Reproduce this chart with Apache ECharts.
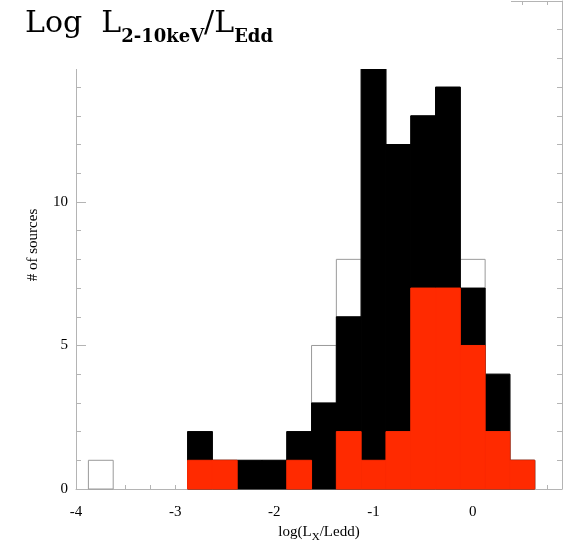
<!DOCTYPE html>
<html>
<head>
<meta charset="utf-8">
<title>Log L2-10keV/LEdd</title>
<script src="https://cdn.jsdelivr.net/npm/echarts@6/dist/echarts.min.js"></script>
<style>
  html, body { margin: 0; padding: 0; background: #fff; }
  #chart { width: 565px; height: 549px; }
</style>
</head>
<body>
<div id="chart"></div>
<script>
// histogram bins (centre of each 0.25 dex bin)
const binCenters = [-3.75, -3.5, -3.25, -3.0, -2.75, -2.5, -2.25, -2.0, -1.75, -1.5, -1.25, -1.0, -0.75, -0.5, -0.25, 0.0, 0.25, 0.5]
const binWidth = 0.25
// outline: every source
const totalCounts = [1, 0, 0, 0, 2, 1, 1, 1, 2, 5, 8, 15, 12, 13, 14, 8, 4, 1]
// black: sub-sample
const blackCounts = [0, 0, 0, 0, 2, 1, 1, 1, 2, 3, 6, 15, 12, 13, 14, 7, 4, 1]
// red: sub-sample
const redCounts = [0, 0, 0, 0, 1, 1, 0, 0, 1, 0, 2, 1, 2, 7, 7, 5, 2, 1]
const xTickLabels = ['-4', '-3', '-2', '-1', '0']
const yTickLabels = ['0', '5', '10']

const axisGrey = '#b4b4b4'
const serif = 'Liberation Serif'

function pairs(counts) {
  return binCenters.map(function(c, i) { return [c, counts[i]] })
}

function histItem(fill, stroke) {
  return function(params, api) {
    const x = api.value(0)
    const v = api.value(1)
    if (!v) return null
    const p0 = api.coord([x - binWidth / 2, v])
    const p1 = api.coord([x + binWidth / 2, 0])
    return {
      type: 'rect',
      shape: { x: p0[0], y: p0[1], width: p1[0] - p0[0], height: p1[1] - p0[1] },
      style: { fill: fill, stroke: stroke, lineWidth: 1 }
    }
  }
}

const chart = echarts.init(document.getElementById('chart'))

const xCommon = {
  type: 'value',
  min: -4,
  max: 0.9,
  interval: 0.25,
  splitLine: { show: false },
  axisLine: { show: true, onZero: false, lineStyle: { color: axisGrey, width: 1 } },
  axisTick: { show: true, inside: true, length: 4, lineStyle: { color: axisGrey } }
}

const option = {
  animation: false,
  backgroundColor: '#fff',
  title: {
    left: 25,
    top: 12,
    padding: 0,
    z: 110,
    text: '{a|Log  L}{b|2-10keV}{a|/L}{b|Edd}',
    textStyle: {
      fontWeight: 'normal',
      rich: {
        a: { fontFamily: 'DejaVu Serif', fontWeight: 'normal', fontSize: 30, lineHeight: 34, color: '#000', verticalAlign: 'bottom', padding: [0, 0, 7, 0] },
        b: { fontFamily: 'DejaVu Serif', fontWeight: 'bold', fontSize: 18, lineHeight: 18, color: '#000', verticalAlign: 'bottom' }
      }
    }
  },
  graphic: [{
    type: 'rect',
    left: 0,
    top: 0,
    z: 100,
    shape: { width: 511, height: 69 },
    style: { fill: '#fff' }
  }],
  grid: {
    left: 76,
    right: 3,
    top: 1,
    bottom: 60
  },
  xAxis: [
    Object.assign({}, xCommon, {
      position: 'bottom',
      name: '{n|log(L}{s|X}{n|/Ledd)}',
      nameLocation: 'middle',
      nameGap: 36,
      nameTextStyle: {
        rich: {
          n: { fontFamily: serif, fontSize: 15, color: '#000', verticalAlign: 'bottom', padding: [0, 0, 3, 0] },
          s: { fontFamily: serif, fontSize: 11, color: '#000', verticalAlign: 'bottom' }
        }
      },
      axisLabel: {
        interval: 0,
        margin: 16,
        fontFamily: serif,
        fontSize: 15,
        color: '#000',
        formatter: function(v) {
          const s = String(Math.round(v))
          return Math.abs(v - Math.round(v)) < 1e-6 && xTickLabels.indexOf(s) >= 0 ? s : ''
        }
      }
    }),
    Object.assign({}, xCommon, {
      position: 'top',
      axisLabel: { show: false }
    })
  ],
  yAxis: [
    {
      type: 'value',
      position: 'left',
      min: 0,
      max: 17,
      interval: 5,
      name: '# of sources',
      nameLocation: 'middle',
      nameGap: 35,
      nameTextStyle: { fontFamily: serif, fontSize: 15, color: '#000' },
      splitLine: { show: false },
      axisLine: { show: true, onZero: false, lineStyle: { color: axisGrey, width: 1 } },
      axisTick: { show: true, inside: true, length: 10, lineStyle: { color: axisGrey } },
      minorTick: { show: true, splitNumber: 5, length: 5, lineStyle: { color: axisGrey } },
      axisLabel: {
        margin: 8,
        fontFamily: serif,
        fontSize: 15,
        color: '#000',
        formatter: function(v) {
          const s = String(v)
          return yTickLabels.indexOf(s) >= 0 ? s : ''
        }
      }
    },
    {
      type: 'value',
      position: 'right',
      min: 0,
      max: 17,
      interval: 1,
      splitLine: { show: false },
      axisLine: { show: true, onZero: false, lineStyle: { color: axisGrey, width: 1 } },
      axisTick: { show: true, inside: true, length: 5, lineStyle: { color: axisGrey } },
      axisLabel: { show: false }
    }
  ],
  series: [
    {
      name: 'all',
      type: 'custom',
      renderItem: histItem('#fff', '#9a9a9a'),
      encode: { x: 0, y: 1 },
      data: pairs(totalCounts),
      z: 2
    },
    {
      name: 'black',
      type: 'custom',
      renderItem: histItem('#000', '#000'),
      encode: { x: 0, y: 1 },
      data: pairs(blackCounts),
      z: 3
    },
    {
      name: 'red',
      type: 'custom',
      renderItem: histItem('#ff2a00', '#ff2a00'),
      encode: { x: 0, y: 1 },
      data: pairs(redCounts),
      z: 4
    }
  ]
}

chart.setOption(option)
window.addEventListener('resize', function() {
  chart.resize()
})
</script>
</body>
</html>
